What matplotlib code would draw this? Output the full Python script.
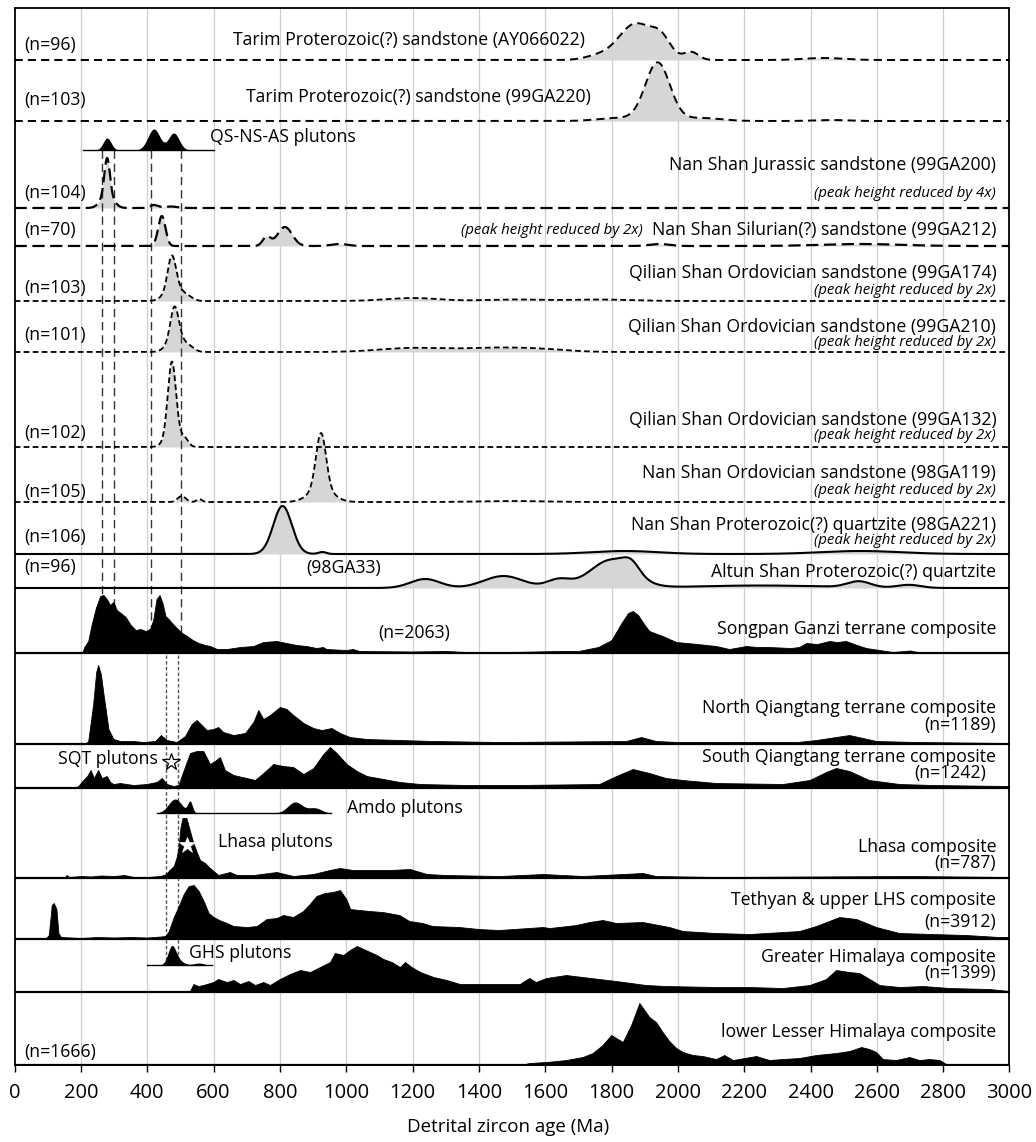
import numpy as np
import matplotlib.pyplot as plt

plt.rcParams['font.family'] = ['Open Sans', 'DejaVu Sans']

# ---- values ----
# smooth age spectra: (age Ma, relative height, spread Ma)
ay066022 = [(1760, 4, 40), (1872, 36, 50), (1950, 18, 30), (2040, 8, 22), (2440, 2, 60)]
ga220 = [(1820, 3, 60), (1939, 58, 37), (2070, 3, 60), (2460, 1, 50)]
ga200 = [(279, 35, 8), (279, 15, 18), (420, 3, 12), (470, 1.5, 20)]
ga212 = [(444, 30, 11), (760, 9, 12), (815, 19, 22), (980, 2, 25), (1945, 2, 30), (2550, 2, 120)]
ga174 = [(474, 30, 12), (480, 16, 24), (525, 3, 15), (1200, 3, 80), (1500, 1.5, 80), (1760, 1.5, 100)]
ga210 = [(482, 30, 12), (488, 16, 24), (530, 3, 15), (1200, 4, 100), (1450, 4, 100), (1600, 2, 80)]
ga132 = [(474, 70, 12), (480, 16, 22), (515, 5, 10)]
ga119 = [(504, 6, 12), (557, 3, 8), (924, 55, 15), (924, 14, 35), (1500, 1, 100)]
ga221 = [(808, 48, 28), (928, 2, 12), (1840, 3, 100), (2550, 3, 120)]
ga33 = [(1238, 9, 45), (1474, 12, 60), (1640, 8, 35), (1800, 28, 65), (1860, 10, 25),
        (2250, 2.5, 200), (2546, 6, 35), (2697, 3, 35)]

# pluton age spectra and their age span
qs_ns_as = [(279, 12, 12), (420, 21, 18), (480, 17, 16)]
qs_ns_as_span = (205, 600)
amdo = [(484, 14, 20), (529, 11, 7), (846, 11, 22), (905, 5, 20)]
amdo_span = (429, 955)
ghs = [(474, 18, 12), (495, 4, 15), (555, 2, 15)]
ghs_span = (399, 595)

# composite spectra traced as (age Ma, height)
songpan = [(0, 0.5), (200, 1), (205, 1), (210, 6), (222, 12), (232, 28), (245, 45), (258, 57),
           (268, 58), (278, 54), (288, 48), (298, 51), (308, 43), (320, 40), (335, 36), (350, 28),
           (365, 23), (380, 24), (395, 22), (408, 24), (418, 33), (428, 54), (437, 58), (446, 50),
           (455, 37), (467, 33), (480, 28), (495, 23), (505, 20), (520, 17), (537, 13), (555, 10),
           (575, 8), (590, 7), (610, 4), (640, 4), (680, 6), (720, 7), (750, 11), (790, 12),
           (820, 10), (850, 8), (880, 7), (910, 5), (930, 6), (940, 4), (1000, 3), (1020, 4),
           (1040, 2), (1200, 1.5), (1300, 2), (1360, 1), (1500, 1), (1640, 2), (1700, 2),
           (1760, 6), (1800, 13), (1830, 30), (1850, 40), (1864, 42), (1880, 38), (1900, 28),
           (1914, 22), (1954, 17), (1995, 11), (2060, 9), (2115, 7), (2155, 4), (2206, 7),
           (2240, 6), (2276, 6), (2340, 5), (2366, 6), (2387, 10), (2420, 9), (2457, 12),
           (2480, 11), (2507, 12), (2540, 8), (2568, 5), (2648, 1), (2700, 2.5), (2730, 0.5),
           (3000, 0.5)]
north_qiangtang = [(0, 0.5), (215, 0.5), (222, 3), (237, 40), (246, 72), (252, 79), (260, 70),
                   (268, 50), (283, 15), (298, 5), (318, 3), (358, 3), (388, 2), (424, 3),
                   (441, 9), (459, 4), (489, 2), (514, 8), (534, 20), (549, 24), (564, 19),
                   (579, 14), (599, 15), (614, 17), (629, 12), (660, 9), (695, 11), (720, 22),
                   (735, 34), (750, 25), (770, 29), (800, 37), (820, 35), (840, 29), (856, 25),
                   (871, 21), (901, 16), (926, 14), (956, 16), (981, 11), (1011, 7), (1062, 5),
                   (1162, 4), (1262, 3), (1464, 2), (1844, 3), (1889, 7), (1934, 3), (2000, 2),
                   (2360, 2), (2417, 4), (2477, 7), (2517, 9), (2558, 6), (2598, 3), (2718, 2),
                   (3000, 1)]
south_qiangtang = [(0, 0.5), (185, 0.5), (192, 2), (207, 8), (219, 12), (229, 18), (239, 10),
                   (252, 18), (263, 10), (278, 12), (288, 6), (298, 4), (318, 5), (358, 3),
                   (398, 4), (428, 6), (444, 10), (459, 4), (479, 2), (494, 3), (509, 17),
                   (529, 35), (549, 37), (569, 37), (589, 24), (604, 27), (619, 31), (634, 18),
                   (660, 13), (700, 10), (725, 8), (750, 15), (780, 24), (810, 22), (840, 21),
                   (871, 14), (901, 20), (931, 34), (951, 41), (971, 35), (1001, 24), (1032, 17),
                   (1062, 12), (1112, 9), (1162, 6), (1223, 4), (1363, 3), (1514, 3), (1763, 4),
                   (1814, 12), (1864, 19), (1914, 15), (1964, 10), (2015, 8), (2115, 5),
                   (2316, 4), (2397, 8), (2447, 16), (2477, 20), (2517, 17), (2577, 8),
                   (2668, 4), (2769, 3), (3000, 2)]
lhasa = [(0, 0.5), (150, 0.5), (157, 3), (165, 1), (200, 2), (230, 1.5), (260, 2.5), (300, 2),
         (330, 3), (360, 1), (400, 1), (440, 2), (457, 4), (467, 8), (480, 12), (488, 20),
         (494, 30), (500, 50), (506, 60), (518, 60), (528, 48), (538, 36), (548, 27), (559, 18),
         (574, 15), (589, 10), (614, 3), (649, 6), (670, 3), (720, 3), (790, 6), (840, 2),
         (900, 4), (950, 8), (981, 10), (1020, 8), (1062, 8), (1130, 8), (1192, 9), (1243, 4),
         (1300, 3), (1464, 2), (1593, 4), (1713, 2), (1894, 5), (1934, 2), (2115, 1),
         (2697, 2), (3000, 1)]
tethyan = [(0, 1), (95, 1), (103, 4), (108, 20), (112, 34), (118, 36), (126, 30), (132, 6),
           (140, 2), (200, 1), (250, 2), (300, 1.5), (350, 2), (400, 1.5), (440, 2.5), (455, 3),
           (465, 8), (480, 22), (495, 33), (510, 45), (525, 53), (540, 54), (555, 48), (570, 38),
           (585, 26), (600, 22), (617, 19), (640, 16), (660, 13), (700, 12), (730, 13), (760, 20),
           (790, 21), (810, 24), (840, 22), (870, 28), (890, 35), (910, 43), (935, 46), (960, 47),
           (981, 49), (1000, 40), (1012, 30), (1040, 29), (1070, 28), (1110, 27), (1160, 24),
           (1190, 18), (1230, 16), (1260, 13), (1340, 12), (1400, 10), (1460, 9), (1593, 12),
           (1613, 11), (1693, 14), (1733, 17), (1773, 19), (1814, 16), (1894, 17), (1974, 12),
           (2015, 8), (2115, 6), (2216, 5), (2366, 8), (2417, 13), (2487, 22), (2538, 20),
           (2598, 12), (2668, 6), (2769, 5), (2869, 4), (2969, 2), (3000, 2)]
greater_himalaya = [(0, 0.5), (520, 0.5), (529, 1), (539, 8), (554, 6), (569, 7), (599, 10),
                    (614, 13), (640, 10), (660, 12), (680, 8), (705, 11), (725, 7), (750, 10),
                    (770, 7), (800, 13), (830, 18), (861, 22), (891, 20), (921, 25), (951, 30),
                    (966, 39), (991, 37), (1011, 42), (1032, 46), (1052, 43), (1072, 40),
                    (1092, 37), (1112, 33), (1137, 30), (1162, 25), (1177, 30), (1197, 25),
                    (1223, 20), (1263, 15), (1303, 12), (1343, 8), (1413, 8), (1524, 8),
                    (1532, 10), (1552, 14), (1572, 10), (1603, 14), (1663, 17), (1713, 15),
                    (1763, 13), (1814, 11), (1904, 7), (1964, 6), (2115, 5), (2216, 5),
                    (2316, 4), (2397, 7), (2447, 13), (2477, 22), (2517, 20), (2547, 19),
                    (2568, 15), (2608, 7), (2668, 5), (2739, 6), (2819, 4), (2939, 3), (3000, 1)]
lower_lesser = [(0, 0.5), (1532, 0.5), (1552, 2), (1603, 3), (1663, 5), (1713, 8), (1743, 12),
                (1773, 20), (1799, 30), (1819, 26), (1834, 23), (1859, 40), (1884, 62),
                (1899, 55), (1914, 48), (1934, 43), (1954, 33), (1974, 24), (1995, 17),
                (2015, 13), (2045, 10), (2075, 9), (2115, 6), (2140, 10), (2166, 5), (2236, 9),
                (2276, 5), (2316, 6), (2366, 7), (2417, 10), (2477, 12), (2517, 14), (2553, 18),
                (2577, 16), (2598, 13), (2618, 6), (2658, 5), (2698, 8), (2728, 5), (2758, 6),
                (2789, 5), (2809, 1), (3000, 1)]

# reference ages (dashed / dotted guide lines)
pluton_ages = [264, 300, 411, 501]
gondwana_ages = [456, 492]

# ---- figure ----
fig = plt.figure(figsize=(10.36, 11.42), dpi=100)
ax = fig.add_axes([0.0141, 0.0674, 0.9603, 0.9256])
ax.set_xlim(0, 3000)
ax.set_ylim(1065, 8)   # vertical axis in figure rows, top to bottom

ages = np.linspace(0, 3000, 3001)
GREY = '#d6d6d6'


def density(peaks):
    d = np.zeros_like(ages)
    for c, h, s in peaks:
        d += h * np.exp(-0.5 * ((ages - c) / s) ** 2)
    return d


def smooth_row(peaks, base, ls, lw):
    y = base - density(peaks)
    ax.fill_between(ages, base, y, color=GREY, lw=0, zorder=1)
    ax.plot(ages, y, color='k', ls=ls, lw=lw, zorder=4)


def pluton_row(peaks, span, base):
    m = (ages >= span[0]) & (ages <= span[1])
    y = base - density(peaks)
    ax.fill_between(ages[m], base, y[m], color='k', lw=0, zorder=3)
    ax.plot([span[0], span[1]], [base, base], color='k', lw=1, zorder=4)


def composite_row(trace, base):
    a, h = np.array(trace, dtype=float).T
    ax.fill_between(a, base, base - h, color='k', lw=0.6, edgecolor='k', zorder=3)
    ax.plot([0, 3000], [base, base], color='k', lw=1.6, zorder=4)


# grid
for g in range(200, 3000, 200):
    ax.axvline(g, color='#cfcfcf', lw=0.9, zorder=0)

long_dash = (0, (5.5, 2.5))
mid_dash = (0, (4.2, 2.6))
short_dash = (0, (3.2, 1.8))

smooth_row(ay066022, 60, mid_dash, 1.4)
smooth_row(ga220, 121, mid_dash, 1.4)
pluton_row(qs_ns_as, qs_ns_as_span, 150)
smooth_row(ga200, 208, long_dash, 1.6)
smooth_row(ga212, 246, long_dash, 1.6)
smooth_row(ga174, 301, short_dash, 1.3)
smooth_row(ga210, 352, short_dash, 1.3)
smooth_row(ga132, 447, short_dash, 1.3)
smooth_row(ga119, 502, short_dash, 1.3)
smooth_row(ga221, 554, '-', 1.5)
smooth_row(ga33, 588, '-', 1.5)
composite_row(songpan, 653)
composite_row(north_qiangtang, 744)
composite_row(south_qiangtang, 788)
pluton_row(amdo, amdo_span, 813)
composite_row(lhasa, 878)
composite_row(tethyan, 939)
pluton_row(ghs, ghs_span, 965)
composite_row(greater_himalaya, 992)
composite_row(lower_lesser, 1065)

# guide lines
for a in pluton_ages:
    ax.plot([a, a], [150, 653], color='#333333', lw=1, ls=(0, (6, 3.5)), zorder=2)
for a in gondwana_ages:
    ax.plot([a, a], [655, 964], color='#555555', lw=1, ls=(0, (2.5, 1.6)), zorder=2)

# stars
ax.plot(472, 762, marker='*', ms=13, mfc='white', mec='k', mew=0.9, zorder=6)
ax.plot(520, 845, marker='*', ms=12, mfc='white', mec='white', mew=0.5, zorder=6)

# labels
RX = 2960
LX = 28
FS = 12.7
IS = 10.8
right_labels = [
    ('Nan Shan Jurassic sandstone (99GA200)', 165),
    ('Nan Shan Silurian(?) sandstone (99GA212)', 230),
    ('Qilian Shan Ordovician sandstone (99GA174)', 273),
    ('Qilian Shan Ordovician sandstone (99GA210)', 327),
    ('Qilian Shan Ordovician sandstone (99GA132)', 420),
    ('Nan Shan Ordovician sandstone (98GA119)', 473),
    ('Nan Shan Proterozoic(?) quartzite (98GA221)', 525),
    ('Altun Shan Proterozoic(?) quartzite', 572),
    ('Songpan Ganzi terrane composite', 629),
    ('North Qiangtang terrane composite', 708),
    ('(n=1189)', 725),
    ('South Qiangtang terrane composite', 757),
    ('Lhasa composite', 847),
    ('(n=787)', 863),
    ('Tethyan & upper LHS composite', 900),
    ('(n=3912)', 922),
    ('Greater Himalaya composite', 957),
    ('(n=1399)', 973),
    ('lower Lesser Himalaya composite', 1032),
]
for txt, y in right_labels:
    ax.text(RX, y, txt, ha='right', va='center', fontsize=FS, zorder=7)
ax.text(2930, 773, '(n=1242)', ha='right', va='center', fontsize=FS, zorder=7)

italic_labels = [(2960, 193, 4), (1895, 230, 2), (2960, 290, 2), (2960, 342, 2),
                 (2960, 435, 2), (2960, 490, 2), (2960, 540, 2)]
for x, y, k in italic_labels:
    ax.text(x, y, '(peak height reduced by %dx)' % k, ha='right', va='center',
            fontsize=IS, style='italic', zorder=7)

left_labels = [('(n=96)', 45), ('(n=103)', 100), ('(n=104)', 193), ('(n=70)', 230),
               ('(n=103)', 288), ('(n=101)', 335), ('(n=102)', 433), ('(n=105)', 492),
               ('(n=106)', 537), ('(n=96)', 567), ('(n=1666)', 1052)]
for txt, y in left_labels:
    ax.text(LX, y, txt, ha='left', va='center', fontsize=FS, zorder=7)

ax.text(1188, 40, 'Tarim Proterozoic(?) sandstone (AY066022)', ha='center', va='center', fontsize=FS)
ax.text(1217, 97, 'Tarim Proterozoic(?) sandstone (99GA220)', ha='center', va='center', fontsize=FS)
ax.text(589, 137, 'QS-NS-AS plutons', ha='left', va='center', fontsize=FS)
ax.text(991, 568, '(98GA33)', ha='center', va='center', fontsize=FS)
ax.text(1204, 633, '(n=2063)', ha='center', va='center', fontsize=FS)
ax.text(432, 759, 'SQT plutons', ha='right', va='center', fontsize=FS, zorder=7)
ax.text(1002, 808, 'Amdo plutons', ha='left', va='center', fontsize=FS)
ax.text(614, 842, 'Lhasa plutons', ha='left', va='center', fontsize=FS)
ax.text(526, 953, 'GHS plutons', ha='left', va='center', fontsize=FS, zorder=7)

# axes
ax.set_yticks([])
ax.set_xticks(range(0, 3001, 200))
ax.tick_params(axis='x', direction='out', length=5, width=1, labelsize=14.5, pad=8)
for s in ax.spines.values():
    s.set_linewidth(1.3)
fig.text(508 / 1036, 1 - 1127 / 1142, 'Detrital zircon age (Ma)', ha='center', va='center',
         fontsize=13.5)

fig.savefig('out.png', dpi=100)
